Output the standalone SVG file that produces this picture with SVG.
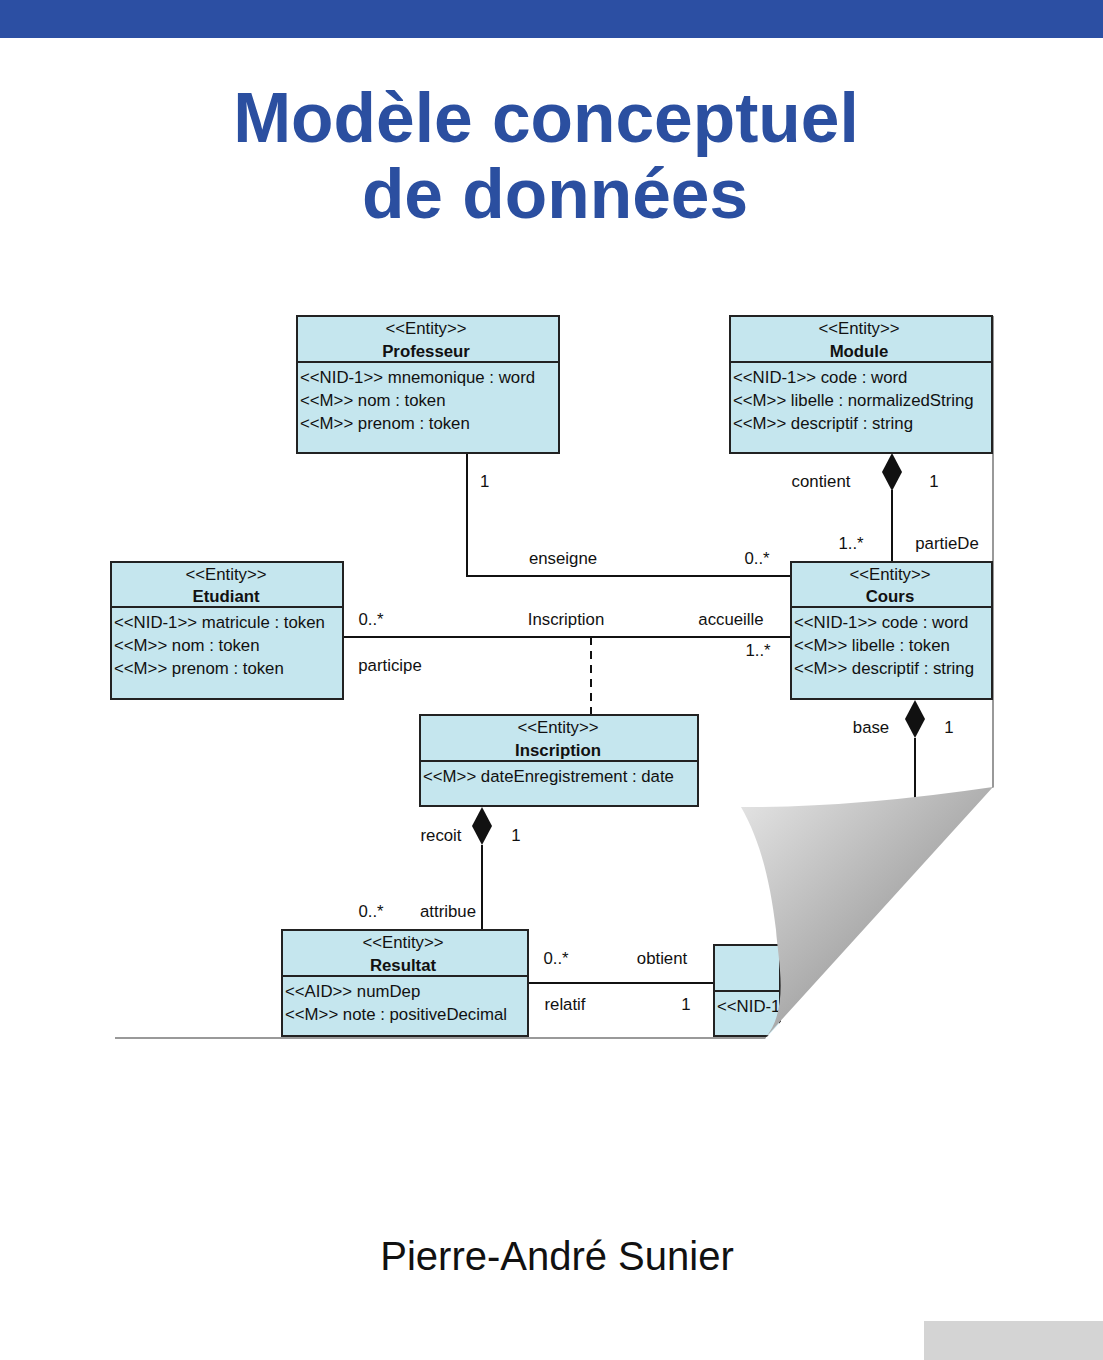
<svg xmlns="http://www.w3.org/2000/svg" width="1103" height="1360" viewBox="0 0 1103 1360">
<style>
.b{fill:#c5e6ee;stroke:#222;stroke-width:2}
.d{stroke:#222;stroke-width:2}
text{font-family:"Liberation Sans",Arial,sans-serif;font-size:16.8px;fill:#111}
.c{text-anchor:middle}
.n{font-weight:bold}
.l{stroke:#111;stroke-width:2;fill:none}
.t{font-weight:bold;font-size:69.5px;fill:#2b4fa0;text-anchor:middle}
</style>
<defs>
<linearGradient id="g" x1="0" y1="0" x2="1" y2="1">
<stop offset="0" stop-color="#e6e6e6"/><stop offset="0.5" stop-color="#b0b0b0"/><stop offset="1" stop-color="#777"/>
</linearGradient>
<clipPath id="cp"><rect x="714" y="940" width="66" height="100"/></clipPath>
</defs>
<rect width="1103" height="1360" fill="#fff"/>
<rect width="1103" height="38" fill="#2c4fa3"/>
<text class="t" x="546" y="142">Modèle conceptuel</text>
<text class="t" x="555" y="218">de données</text>
<line x1="993" y1="316" x2="993" y2="788" stroke="#999" stroke-width="2"/>
<line x1="115" y1="1038" x2="766" y2="1038" stroke="#999" stroke-width="2"/>
<g id="connectors">
<polyline class="l" points="467,453 467,576 791,576"/>
<line class="l" x1="892" y1="490" x2="892" y2="562"/>
<polygon points="892,453 902,472 892,491 882,472" fill="#111"/>
<line class="l" x1="343" y1="637" x2="791" y2="637"/>
<line class="l" x1="591" y1="637" x2="591" y2="715" stroke-dasharray="8,6"/>
<line class="l" x1="915" y1="738" x2="915" y2="806"/>
<polygon points="915,700 925,719 915,738 905,719" fill="#111"/>
<line class="l" x1="482" y1="845" x2="482" y2="930"/>
<polygon points="482,807 492,826 482,845 472,826" fill="#111"/>
<line class="l" x1="528" y1="983" x2="714" y2="983"/>
<text x="480" y="487">1</text>
<text class="c" x="563" y="564">enseigne</text>
<text class="c" x="757" y="564">0..*</text>
<text class="c" x="821" y="487">contient</text>
<text class="c" x="934" y="487">1</text>
<text class="c" x="851" y="549">1..*</text>
<text class="c" x="947" y="549">partieDe</text>
<text class="c" x="371" y="625">0..*</text>
<text class="c" x="566" y="625">Inscription</text>
<text class="c" x="731" y="625">accueille</text>
<text class="c" x="390" y="671">participe</text>
<text class="c" x="758" y="656">1..*</text>
<text class="c" x="871" y="733">base</text>
<text class="c" x="949" y="733">1</text>
<text class="c" x="441" y="841">recoit</text>
<text class="c" x="516" y="841">1</text>
<text class="c" x="371" y="917">0..*</text>
<text class="c" x="448" y="917">attribue</text>
<text class="c" x="556" y="964">0..*</text>
<text class="c" x="662" y="964">obtient</text>
<text class="c" x="565" y="1010">relatif</text>
<text class="c" x="686" y="1010">1</text>
</g>
<g id="professeur">
<rect class="b" x="297" y="316" width="262" height="137"/><line class="d" x1="297" y1="362" x2="559" y2="362"/>
<text class="c" x="426" y="334">&lt;&lt;Entity&gt;&gt;</text><text class="c n" x="426" y="357">Professeur</text>
<text x="300" y="383">&lt;&lt;NID-1&gt;&gt; mnemonique : word</text>
<text x="300" y="406">&lt;&lt;M&gt;&gt; nom : token</text>
<text x="300" y="429">&lt;&lt;M&gt;&gt; prenom : token</text>
</g>
<g id="module">
<rect class="b" x="730" y="316" width="262" height="137"/><line class="d" x1="730" y1="362" x2="992" y2="362"/>
<text class="c" x="859" y="334">&lt;&lt;Entity&gt;&gt;</text><text class="c n" x="859" y="357">Module</text>
<text x="733" y="383">&lt;&lt;NID-1&gt;&gt; code : word</text>
<text x="733" y="406">&lt;&lt;M&gt;&gt; libelle : normalizedString</text>
<text x="733" y="429">&lt;&lt;M&gt;&gt; descriptif : string</text>
</g>
<g id="etudiant">
<rect class="b" x="111" y="562" width="232" height="137"/><line class="d" x1="111" y1="607" x2="343" y2="607"/>
<text class="c" x="226" y="580">&lt;&lt;Entity&gt;&gt;</text><text class="c n" x="226" y="602">Etudiant</text>
<text x="114" y="628">&lt;&lt;NID-1&gt;&gt; matricule : token</text>
<text x="114" y="651">&lt;&lt;M&gt;&gt; nom : token</text>
<text x="114" y="674">&lt;&lt;M&gt;&gt; prenom : token</text>
</g>
<g id="cours">
<rect class="b" x="791" y="562" width="201" height="137"/><line class="d" x1="791" y1="607" x2="992" y2="607"/>
<text class="c" x="890" y="580">&lt;&lt;Entity&gt;&gt;</text><text class="c n" x="890" y="602">Cours</text>
<text x="794" y="628">&lt;&lt;NID-1&gt;&gt; code : word</text>
<text x="794" y="651">&lt;&lt;M&gt;&gt; libelle : token</text>
<text x="794" y="674">&lt;&lt;M&gt;&gt; descriptif : string</text>
</g>
<g id="inscription">
<rect class="b" x="420" y="715" width="278" height="91"/><line class="d" x1="420" y1="761" x2="698" y2="761"/>
<text class="c" x="558" y="733">&lt;&lt;Entity&gt;&gt;</text><text class="c n" x="558" y="756">Inscription</text>
<text x="423" y="782">&lt;&lt;M&gt;&gt; dateEnregistrement : date</text>
</g>
<g id="resultat">
<rect class="b" x="282" y="930" width="246" height="106"/><line class="d" x1="282" y1="976" x2="528" y2="976"/>
<text class="c" x="403" y="948">&lt;&lt;Entity&gt;&gt;</text><text class="c n" x="403" y="971">Resultat</text>
<text x="285" y="997">&lt;&lt;AID&gt;&gt; numDep</text>
<text x="285" y="1020">&lt;&lt;M&gt;&gt; note : positiveDecimal</text>
</g>
<g id="partiel">
<rect class="b" x="714" y="945" width="66" height="91"/><line class="d" x1="714" y1="991" x2="780" y2="991"/>
<text x="717" y="1012" clip-path="url(#cp)">&lt;&lt;NID-1</text>
</g>
<polygon points="994,787 1103,787 1103,1045 765,1045 765,1039" fill="#fff"/>
<path d="M741,807 Q850,808 993,787 L765,1038 C790,1010 778,960 776,930 C770,880 760,840 741,807 Z" fill="url(#g)"/>
<text x="557" y="1270" text-anchor="middle" style="font-size:40px">Pierre-André Sunier</text>
<rect x="924" y="1321" width="179" height="39" fill="#d4d4d4"/>
</svg>
